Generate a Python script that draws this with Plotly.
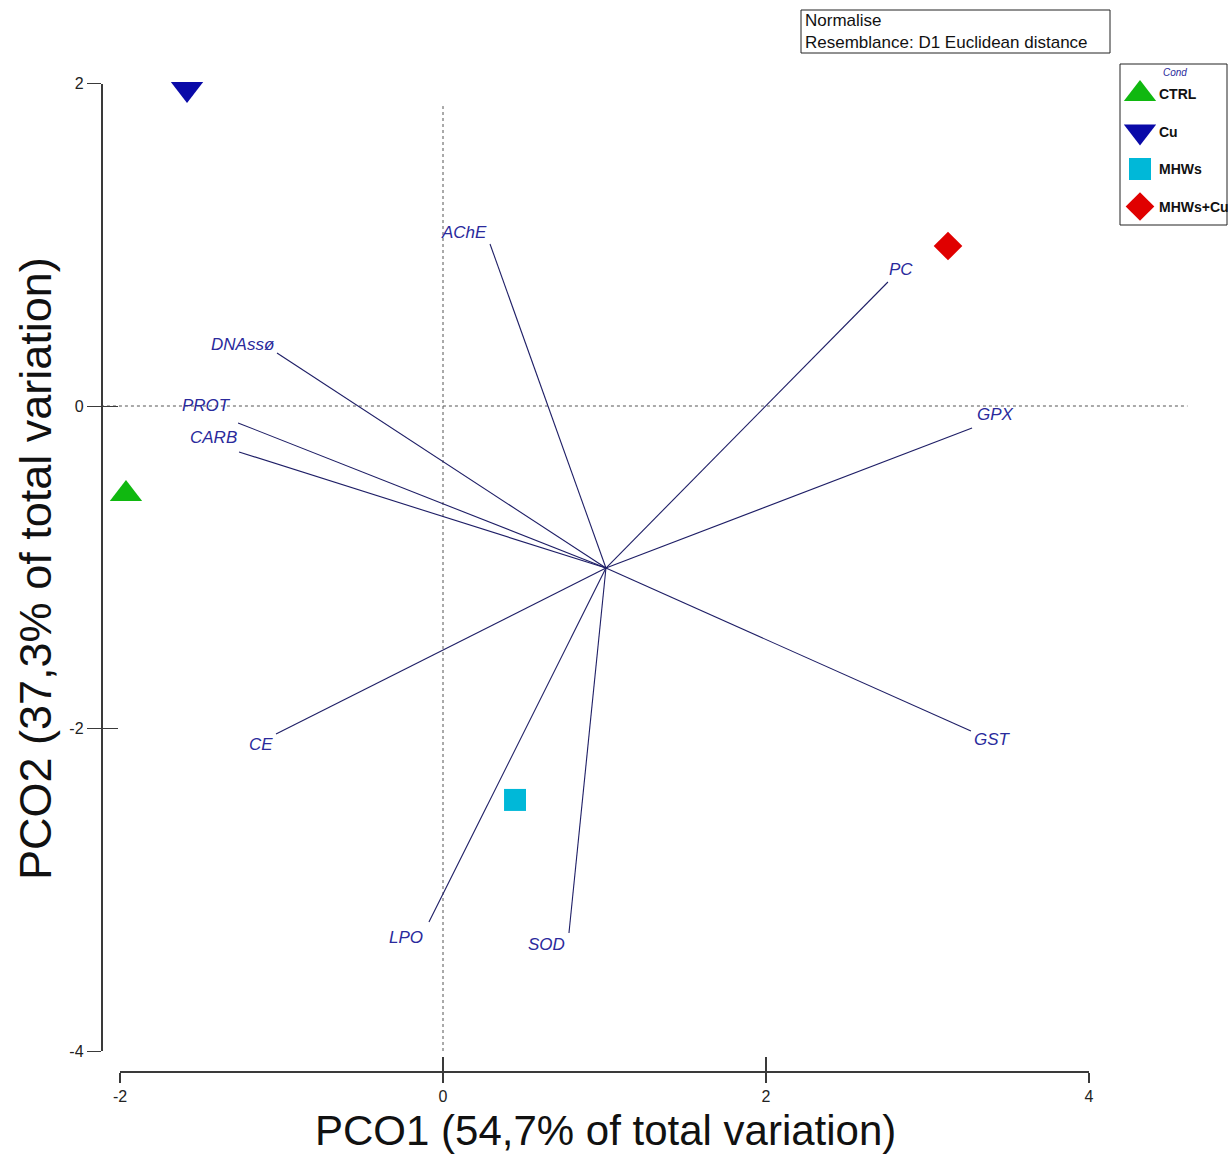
import plotly.graph_objects as go

# ---------------- data ----------------
groups = ["CTRL", "Cu", "MHWs", "MHWs+Cu"]
pco1 = [-1.963, -1.585, 0.446, 3.127]
pco2 = [-0.546, 1.966, -2.443, 0.992]

variables = ["AChE", "PC", "DNAssø", "PROT", "CARB", "GPX", "GST", "CE", "LPO", "SOD"]
vec_x = [0.291, 2.755, -1.028, -1.269, -1.263, 3.276, 3.269, -1.034, -0.087, 0.780]
vec_y = [1.005, 0.769, 0.329, -0.105, -0.285, -0.136, -2.016, -2.034, -3.200, -3.268]
vec_origin = (1.009, -1.005)

x_ticks = [-2, 0, 2, 4]
y_ticks = [-4, -2, 0, 2]
zero_v_extent = (-4.0, 1.86)
zero_h_extent = (-2.118, 4.61)

# ---------------- styles ----------------
W, H = 1228, 1155
SX, SY = 161.5, 161.25      # px per unit
X0PX, Y0PX = 443, 406       # pixel of data origin
group_symbols = ["triangle-up", "triangle-down", "square", "diamond"]
group_colors = ["#10b810", "#0a0aa8", "#00b8d8", "#e00000"]
group_sizes = [28, 28, 22, 22]
# label offsets from vector tips, in pixels (dx right, dy down)
label_dx = [-26, 13, -34, -32, -26, 23, 22, -15, -23, -22]
label_dy = [-11, -13, -8, -17, -14, -13, 8, 11, 15, 12]
FONT = "Liberation Sans, Arial, sans-serif"
AX = "#3a3a3a"

fig = go.Figure()

xr = [(0 - X0PX) / SX, (W - X0PX) / SX]
yr = [(Y0PX - H) / SY, Y0PX / SY]

# zero lines (dotted)
fig.add_trace(go.Scatter(x=[0, 0], y=list(zero_v_extent), mode="lines",
                         line=dict(color="#555555", width=1, dash="dot"),
                         hoverinfo="skip", showlegend=False))
fig.add_trace(go.Scatter(x=list(zero_h_extent), y=[0, 0], mode="lines",
                         line=dict(color="#555555", width=1, dash="dot"),
                         hoverinfo="skip", showlegend=False))

# vectors
lx, ly = [], []
for vx, vy in zip(vec_x, vec_y):
    lx += [vec_origin[0], vx, None]
    ly += [vec_origin[1], vy, None]
fig.add_trace(go.Scatter(x=lx, y=ly, mode="lines",
                         line=dict(color="#1e1e66", width=1.1),
                         hoverinfo="skip", showlegend=False))
for name, vx, vy, dx, dy in zip(variables, vec_x, vec_y, label_dx, label_dy):
    fig.add_annotation(x=vx, y=vy, xref="x", yref="y", text=name, showarrow=False,
                       xanchor="center", yanchor="middle", xshift=dx, yshift=-dy,
                       font=dict(family=FONT, size=17, color="#2a2a9c", style="italic"))

# group points
for g, x, y, s, c, sz in zip(groups, pco1, pco2, group_symbols, group_colors, group_sizes):
    fig.add_trace(go.Scatter(x=[x], y=[y], mode="markers", name=g,
                             marker=dict(symbol=s, color=c, size=sz, line=dict(width=0)),
                             showlegend=False))

# dummy traces for the frame axes
for k in (2, 3):
    fig.add_trace(go.Scatter(x=[None], y=[None], xaxis=f"x{k}", yaxis=f"y{k}",
                             showlegend=False, hoverinfo="skip"))

# manual legend (axes in pixel space)
LEG_X, LEG_Y0, LEG_STEP = 1140, 94, 37.5
for i, (g, s, c, sz) in enumerate(zip(groups, group_symbols, group_colors, group_sizes)):
    fig.add_trace(go.Scatter(x=[LEG_X], y=[LEG_Y0 + i * LEG_STEP], mode="markers",
                             xaxis="x4", yaxis="y4",
                             marker=dict(symbol=s, color=c, size=sz, line=dict(width=0)),
                             showlegend=False, hoverinfo="skip"))
    fig.add_annotation(x=1157, y=LEG_Y0 + i * LEG_STEP, xref="x4", yref="y4",
                       text=f"<b>{g}</b>", showarrow=False, xanchor="left", yanchor="middle",
                       font=dict(family=FONT, size=14, color="#111111"))
fig.add_annotation(x=1175, y=72, xref="x4", yref="y4", text="Cond", showarrow=False,
                   xanchor="center", yanchor="middle",
                   font=dict(family=FONT, size=10, color="#2a2a9c", style="italic"))
fig.add_shape(type="rect", xref="x4", yref="y4", x0=1120, x1=1227, y0=64, y1=225,
              line=dict(color="#222222", width=1))

# info box
fig.add_shape(type="rect", xref="x4", yref="y4", x0=801, x1=1110, y0=10, y1=53,
              line=dict(color="#222222", width=1))
fig.add_annotation(x=803, y=20, xref="x4", yref="y4", text="Normalise", showarrow=False,
                   xanchor="left", yanchor="middle", font=dict(family=FONT, size=17, color="#111111"))
fig.add_annotation(x=803, y=42, xref="x4", yref="y4", text="Resemblance: D1 Euclidean distance",
                   showarrow=False, xanchor="left", yanchor="middle",
                   font=dict(family=FONT, size=17, color="#111111"))

# axis titles
fig.add_annotation(x=605, y=1130, xref="x4", yref="y4", text="PCO1 (54,7% of total variation)",
                   showarrow=False, xanchor="center", yanchor="middle",
                   font=dict(family=FONT, size=42, color="#111111"))
fig.add_annotation(x=35, y=569, xref="x4", yref="y4", text="PCO2 (37,3% of total variation)",
                   showarrow=False, textangle=-90, xanchor="center", yanchor="middle",
                   font=dict(family=FONT, size=45, color="#111111"))

# frame axis geometry (pixels -> paper)
xa_left = (X0PX + x_ticks[0] * SX) / W
xa_right = (X0PX + x_ticks[-1] * SX) / W
ya_bot = (H - (Y0PX - y_ticks[0] * SY)) / H
ya_top = (H - (Y0PX - y_ticks[-1] * SY)) / H
xa_pos = (H - 1072) / H
ya_pos = 101.5 / W

tickfont = dict(family=FONT, size=16, color="#222222")
common = dict(showgrid=False, zeroline=False, fixedrange=True, anchor="free")
fig.update_layout(
    width=W, height=H, margin=dict(l=0, r=0, t=0, b=0, autoexpand=False),
    paper_bgcolor="white", plot_bgcolor="rgba(0,0,0,0)",
    showlegend=False,
    xaxis=dict(domain=[0, 1], range=xr, visible=False, fixedrange=True),
    yaxis=dict(domain=[0, 1], range=yr, visible=False, fixedrange=True),
    xaxis2=dict(domain=[xa_left, xa_right], range=[x_ticks[0], x_ticks[-1]],
                position=xa_pos, showline=True, linecolor=AX, linewidth=1.5,
                ticks="outside", ticklen=10, tickwidth=1.5, tickcolor=AX,
                tickvals=x_ticks, ticktext=[str(v) for v in x_ticks], tickfont=tickfont,
                **common),
    yaxis2=dict(domain=[ya_bot, ya_top], range=[y_ticks[0], y_ticks[-1]],
                position=ya_pos, showline=True, linecolor=AX, linewidth=1.5,
                ticks="outside", ticklen=14, tickwidth=1.3, tickcolor=AX,
                tickvals=y_ticks, ticktext=[str(v) for v in y_ticks], tickfont=tickfont,
                **common),
    xaxis3=dict(domain=[xa_left, xa_right], range=[x_ticks[0], x_ticks[-1]],
                position=xa_pos, showline=False, ticks="inside", ticklen=15, tickwidth=1.5,
                tickcolor=AX, tickvals=x_ticks, showticklabels=False, **common),
    yaxis3=dict(domain=[ya_bot, ya_top], range=[y_ticks[0], y_ticks[-1]],
                position=ya_pos, showline=False, ticks="inside", ticklen=15, tickwidth=1.3,
                tickcolor=AX, tickvals=y_ticks, showticklabels=False, **common),
    xaxis4=dict(domain=[0, 1], range=[0, W], visible=False, fixedrange=True, anchor="y4"),
    yaxis4=dict(domain=[0, 1], range=[H, 0], visible=False, fixedrange=True, anchor="x4"),
)

fig.write_html("out.html",
               post_script="document.body.style.margin='0';document.body.style.padding='0';"
                           "document.documentElement.style.overflow='hidden';")
